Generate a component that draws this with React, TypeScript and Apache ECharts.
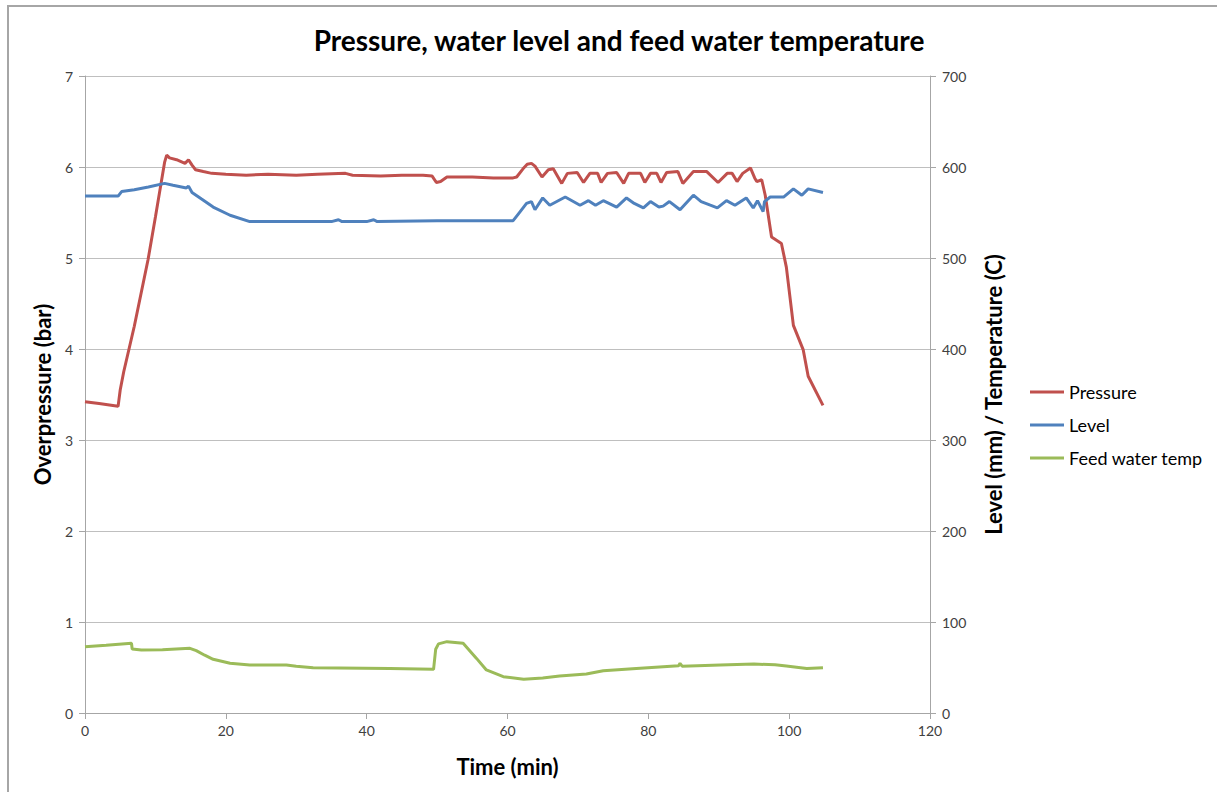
import React, { useEffect, useRef } from "react";
import * as echarts from "echarts";

const xTicks = [0, 20, 40, 60, 80, 100, 120];

const pressureTime = [0, 2, 4.7, 5.0, 5.5, 7, 8.95, 10, 11.3, 11.6, 12.0, 13, 14.2, 14.7, 15.2, 15.7, 16.8, 18, 20, 22.9, 26, 30, 33, 37, 38, 42, 45, 48, 49.3, 49.9, 50.5, 51.4, 55, 58, 60.8, 61.3, 62.2, 62.8, 63.4, 63.9, 64.9, 65.8, 66.5, 67.7, 68.5, 69.9, 70.8, 71.7, 72.8, 73.3, 74.2, 75.5, 76.5, 77.2, 78.9, 79.5, 80.3, 81.2, 81.8, 82.6, 84.2, 84.9, 86.4, 88.3, 89.9, 91.2, 91.9, 92.6, 93.4, 94.5, 95.1, 95.4, 96.1, 96.6, 97.5, 98.9, 99.6, 100.6, 102, 102.7, 104.8];
const pressure = [3.42, 3.4, 3.37, 3.55, 3.75, 4.25, 4.98, 5.45, 6.05, 6.13, 6.1, 6.08, 6.04, 6.08, 6.02, 5.97, 5.95, 5.93, 5.92, 5.91, 5.92, 5.91, 5.92, 5.93, 5.91, 5.9, 5.91, 5.91, 5.9, 5.83, 5.84, 5.89, 5.89, 5.88, 5.88, 5.89, 5.98, 6.03, 6.04, 6.01, 5.89, 5.97, 5.98, 5.82, 5.93, 5.94, 5.83, 5.93, 5.93, 5.83, 5.93, 5.94, 5.82, 5.93, 5.93, 5.83, 5.93, 5.93, 5.83, 5.94, 5.95, 5.82, 5.95, 5.95, 5.83, 5.93, 5.93, 5.84, 5.93, 5.99, 5.88, 5.84, 5.86, 5.69, 5.23, 5.16, 4.9, 4.26, 3.99, 3.7, 3.38];

const levelTime = [0, 4.7, 5.2, 7, 9, 11.3, 12.5, 14.4, 14.7, 15.2, 16.5, 18.2, 20.6, 23.4, 25, 35, 36, 36.5, 40, 41, 41.5, 50, 60.8, 61.5, 62.7, 63.4, 63.9, 65, 66, 68.2, 70.3, 71.5, 72.5, 73.6, 75.5, 76.9, 78, 79.3, 80.3, 81.5, 82.1, 83, 84.5, 86.4, 87.5, 88.8, 89.8, 91.1, 92.3, 93.9, 94.9, 95.5, 96.3, 96.5, 97.3, 99.2, 100.6, 101.8, 102.7, 104.8];
const level = [568, 568, 573, 575, 578, 582, 580, 577, 579, 572, 565, 556, 547, 540, 540, 540, 542, 540, 540, 542, 540, 541, 541, 548, 560, 562, 553, 566, 558, 567, 558, 563, 558, 563, 556, 566, 560, 555, 562, 556, 557, 562, 553, 569, 562, 558, 555, 563, 558, 566, 555, 563, 551, 562, 567, 567, 576, 569, 576, 572];

const feedTime = [0, 3, 6.6, 6.7, 8, 11, 14.9, 15.8, 17, 18.2, 20.6, 23.4, 28.6, 30, 32.4, 43.3, 49.5, 49.8, 50.2, 51.4, 53.7, 55.6, 57, 59.4, 62.3, 65, 67.4, 71.2, 73.6, 78.3, 84.3, 84.5, 84.8, 90.2, 95, 98, 99.6, 102.5, 104.8];
const feedTemp = [72.9, 74.5, 76.6, 70.3, 69.2, 69.5, 71.1, 68.5, 63.5, 59, 54.6, 52.7, 52.7, 51.5, 49.8, 49, 48, 70, 76, 78.4, 76.6, 60, 47.3, 39.9, 37, 38.5, 40.7, 42.9, 46.5, 49, 52, 54.5, 51.5, 52.7, 53.8, 53, 51.6, 49, 49.8];

const zip = (t: number[], v: number[]) => t.map((x, i) => [x, v[i]]);

const FONT = "Lato, 'Open Sans', sans-serif";
const AXIS_GRAY = "#a6a6a6";
const LABEL = { color: "#404040", fontSize: 14, fontFamily: FONT };
const NAME = { color: "#000", fontSize: 22, fontWeight: "bold" as const, fontFamily: FONT };

export default function App() {
  const ref = useRef<HTMLDivElement>(null);
  useEffect(() => {
    if (!ref.current) return;
    const chart = echarts.init(ref.current, null, { renderer: "svg" });
    chart.setOption({
      animation: false,
      backgroundColor: "#fff",
      title: {
        text: "Pressure, water level and feed water temperature",
        left: 614,
        textAlign: "center",
        top: 21,
        textStyle: { fontSize: 28, fontWeight: "bold", color: "#000", fontFamily: FONT },
      },
      graphic: [
        {
          type: "rect",
          shape: { x: 8, y: 6, width: 1240, height: 820 },
          style: { fill: "none", stroke: "#a6a6a6", lineWidth: 2 },
          silent: true,
        },
      ],
      legend: {
        orient: "vertical",
        left: 1025,
        top: 378,
        itemGap: 15,
        itemWidth: 34,
        itemHeight: 3,
        icon: "rect",
        textStyle: { fontSize: 18, color: "#000", fontFamily: FONT },
        data: ["Pressure", "Level", "Feed water temp"],
      },
      grid: { left: 85, right: 287, top: 76, bottom: 79 },
      xAxis: {
        type: "value",
        min: 0,
        max: 120,
        interval: 20,
        name: "Time (min)",
        nameLocation: "middle",
        nameGap: 42,
        nameTextStyle: NAME,
        axisLine: { show: true, lineStyle: { color: AXIS_GRAY } },
        axisTick: { show: true, length: 6, lineStyle: { color: AXIS_GRAY } },
        axisLabel: { ...LABEL, margin: 10, customValues: xTicks },
        splitLine: { show: false },
      },
      yAxis: [
        {
          type: "value",
          min: 0,
          max: 7,
          interval: 1,
          position: "left",
          name: "Overpressure (bar)",
          nameLocation: "middle",
          nameGap: 31,
          nameTextStyle: NAME,
          axisLine: { show: true, lineStyle: { color: AXIS_GRAY } },
          axisTick: { show: true, length: 6, lineStyle: { color: AXIS_GRAY } },
          axisLabel: { ...LABEL, margin: 12 },
          splitLine: { show: true, lineStyle: { color: "#bfbfbf", width: 1 } },
        },
        {
          type: "value",
          min: 0,
          max: 700,
          interval: 100,
          position: "right",
          name: "Level (mm) / Temperature (C)",
          nameLocation: "middle",
          nameGap: 52,
          nameRotate: 90,
          nameTextStyle: NAME,
          axisLine: { show: true, lineStyle: { color: AXIS_GRAY } },
          axisTick: { show: true, length: 6, lineStyle: { color: AXIS_GRAY } },
          axisLabel: { ...LABEL, margin: 12 },
          splitLine: { show: false },
        },
      ],
      series: [
        {
          name: "Pressure",
          type: "line",
          yAxisIndex: 0,
          showSymbol: false,
          symbol: "none",
          color: "#C0504D",
          lineStyle: { width: 3, color: "#C0504D" },
          data: zip(pressureTime, pressure),
        },
        {
          name: "Level",
          type: "line",
          yAxisIndex: 1,
          showSymbol: false,
          symbol: "none",
          color: "#4F81BD",
          lineStyle: { width: 3, color: "#4F81BD" },
          data: zip(levelTime, level),
        },
        {
          name: "Feed water temp",
          type: "line",
          yAxisIndex: 1,
          showSymbol: false,
          symbol: "none",
          color: "#9BBB59",
          lineStyle: { width: 3, color: "#9BBB59" },
          data: zip(feedTime, feedTemp),
        },
      ],
    });
    return () => chart.dispose();
  }, []);
  return (
    <div
      ref={ref}
      style={{ position: "absolute", left: 0, top: 0, width: 1217, height: 792 }}
    />
  );
}
